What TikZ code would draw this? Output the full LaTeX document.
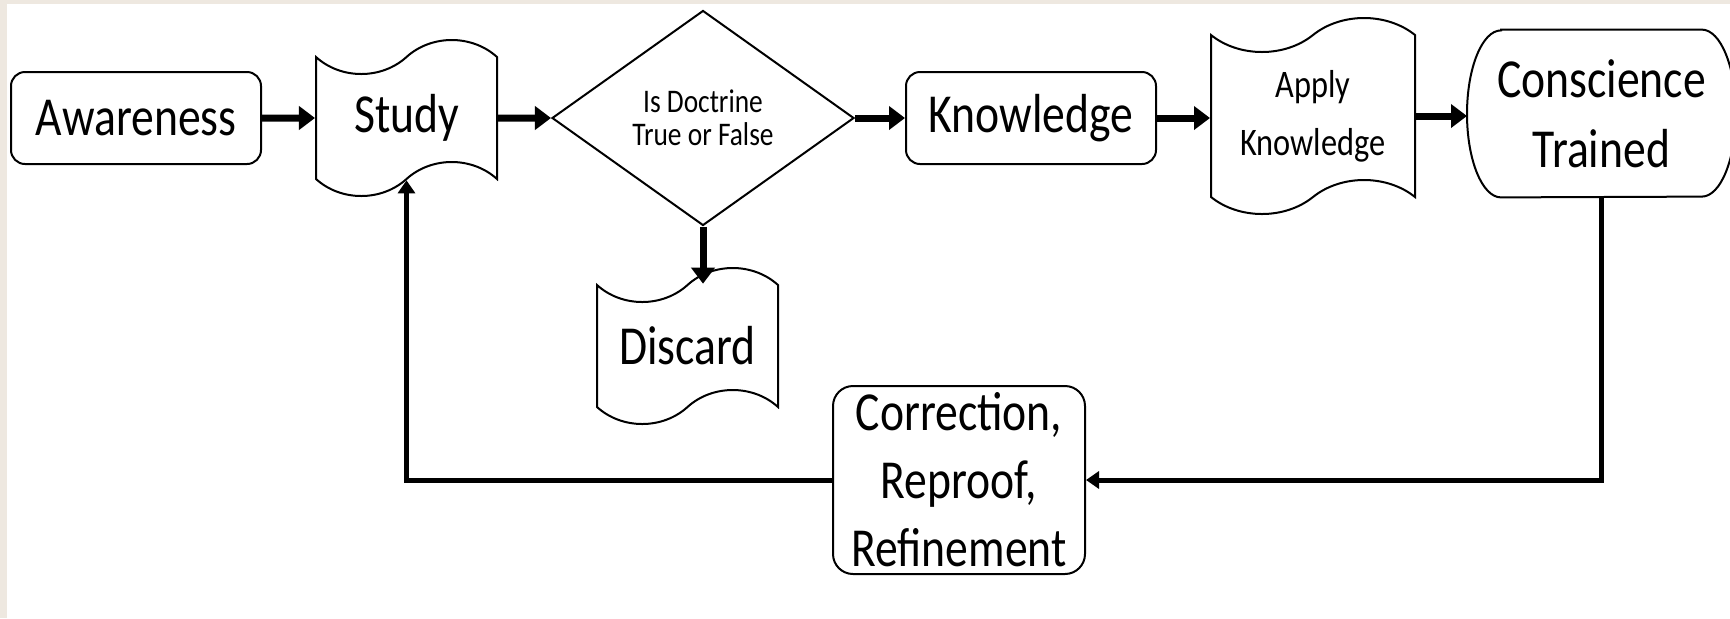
\documentclass[tikz,border=0pt]{standalone}
\usepackage{fontspec}
\setmainfont[FakeStretch=0.83]{Carlito}
\usetikzlibrary{positioning,shapes.geometric,shapes.symbols,arrows.meta}
\definecolor{pagebeige}{RGB}{238,232,224}
\tikzset{
  basic/.style    = {draw, line width=1pt, align=center, inner sep=0pt, fill=white},
  roundbox/.style = {basic, rounded corners=7pt, minimum width=125pt, minimum height=46pt, font=\fontsize{27.5}{34}\selectfont},
  tapebox/.style  = {basic, tape, tape bend height=17pt, minimum width=90.5pt, minimum height=78pt, font=\fontsize{27.5}{34}\selectfont},
  decision/.style = {basic, diamond, minimum width=151pt, minimum height=107.5pt, font=\fontsize{16.5}{16.5}\selectfont},
  terminal/.style = {align=center, inner sep=0pt, minimum width=134pt, minimum height=83.5pt, font=\fontsize{27.5}{35}\selectfont},
  flow/.style     = {line width=3.5pt, -{Triangle[length=8pt,width=11.5pt]}},
  feedback/.style = {line width=2.5pt, -{Triangle[length=6.5pt,width=8.5pt]}}
}

\begin{document}
\begin{tikzpicture}[x=0.5pt, y=0.5pt]
  % page and its edge
  \fill[white] (0,0) rectangle (1730,-618);
  \fill[pagebeige] (0,0) rectangle (7,-618);
  \fill[pagebeige] (0,0) rectangle (1730,-4);
  \useasboundingbox (0,0) rectangle (1730,-618);

  % main row
  \node[roundbox] (aware) at (136,-118) {Awareness};
  \node[tapebox, right=26.5pt of aware] (study) {Study};
  \node[decision, right=26.5pt of study] (doctrine) {Is Doctrine\\True or False};
  \node[roundbox, right=25pt of doctrine] (know) {Knowledge};
  \node[tapebox, right=26.5pt of know, minimum width=102pt, minimum height=98pt, yshift=1pt,
        font=\fontsize{19.5}{29}\selectfont] (apply) {Apply\\Knowledge};
  \node[terminal, right=25.5pt of apply, yshift=1.25pt] (cons) {Conscience\\Trained};
  \draw[line width=1pt] ([xshift=17pt]cons.north west) -- ([xshift=-17pt]cons.north east)
    arc[start angle=90, end angle=-90, x radius=17pt, y radius=41.75pt]
    -- ([xshift=17pt]cons.south west)
    arc[start angle=270, end angle=90, x radius=17pt, y radius=41.75pt] -- cycle;

  % lower row
  \node[tapebox] (discard) at (687.5,-346) {Discard};
  \node[roundbox, rounded corners=10pt, minimum width=126pt, minimum height=94pt] (correct)
        at (959,-480) {Correction,\\Reproof,\\Refinement};

  % connectors
  \draw[flow] (aware) -- (study);
  \draw[flow] (study) -- (doctrine);
  \draw[flow] (doctrine) -- (know);
  \draw[flow] (know) -- (know -| apply.west);
  \draw[flow] (apply.east) -- (apply.east -| cons.west);
  \draw[flow] (doctrine.south) -- (doctrine.south |- discard.north);
  \draw[feedback] (cons.south) |- (correct.east);
  \draw[feedback] (correct.west) -| (study.south);
\end{tikzpicture}
\end{document}
